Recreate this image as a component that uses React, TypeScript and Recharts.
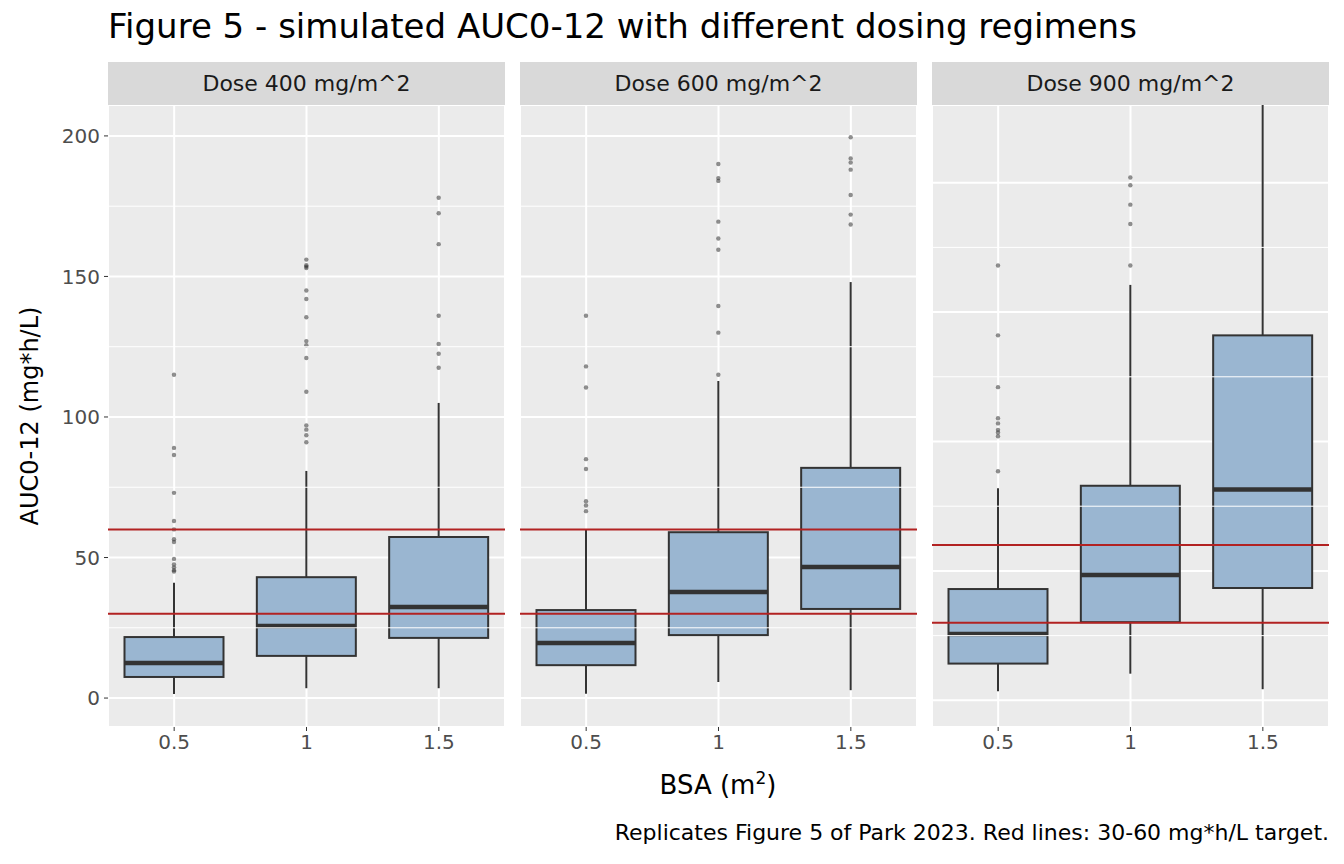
import React from "react";
import { ComposedChart, Bar, XAxis, YAxis, CartesianGrid, ReferenceLine } from "recharts";

const doses = ["Dose 400 mg/m^2", "Dose 600 mg/m^2", "Dose 900 mg/m^2"];
const bsa = ["0.5", "1", "1.5"];

// [low, q1, median, q3, high] per dose, per BSA
const stats400 = [
  [1.4, 7.5, 12.5, 21.7, 41],
  [3.5, 15, 25.6, 43, 80.8],
  [3.5, 21.4, 32.4, 57.3, 105],
];
const stats600 = [
  [1.5, 11.7, 19.6, 31.3, 59.8],
  [5.7, 22.4, 37.7, 59, 112.8],
  [2.8, 31.7, 46.6, 81.9, 148],
];
const stats900 = [
  [3.5, 14.2, 25.6, 43, 81.9],
  [10.3, 30.2, 48.4, 82.9, 160.5],
  [4.3, 43.4, 81.5, 141, 230],
];
const out400 = [
  [115, 89, 86.5, 73, 63, 60, 56.5, 55.5, 49.5, 47.5, 46.5, 45.5, 45],
  [156, 154, 153.5, 153, 145, 142, 135.5, 127, 125.5, 121, 109, 97, 95.5, 93.5, 91],
  [178, 172.5, 161.5, 136, 126, 122.5, 117.5],
];
const out600 = [
  [136, 118, 110.5, 85, 81.5, 70, 68.5, 66.5],
  [190, 185, 184, 169.5, 163.5, 159.5, 139.5, 130, 115],
  [199.5, 192, 190.5, 188, 179, 172, 168.5],
];
const out900 = [
  [168, 141, 121, 109, 107, 104.5, 103.5, 102, 88.5],
  [202, 199, 191.5, 184, 168],
  [],
];
const allStats = [stats400, stats600, stats900];
const allOut = [out400, out600, out900];
const targets = [30, 60];
const majorTicks = [0, 50, 100, 150, 200];
const minorTicks = [25, 75, 125, 175];

const FONT = "'DejaVu Sans', sans-serif";
const PANEL_W = 397;
const PLOT_H = 622;
const PANEL_H = 665;
const YW = 60;

function BoxShape(props: any) {
  const { x, y, width, height, payload } = props;
  const [lo, q1, med, q3, hi] = payload.s;
  const py = (v: number) => y + (height * (hi - v)) / (hi - lo);
  const bw = width * 0.75;
  const bx = x + (width - bw) / 2;
  const cx = x + width / 2;
  const top = Math.max(py(hi), 0);
  return (
    <g>
      <line x1={cx} x2={cx} y1={top} y2={py(q3)} stroke="#333" strokeWidth={2} />
      <line x1={cx} x2={cx} y1={py(q1)} y2={py(lo)} stroke="#333" strokeWidth={2} />
      <rect x={bx} y={py(q3)} width={bw} height={py(q1) - py(q3)} fill="#9AB6D1" stroke="#333" strokeWidth={2} />
      <line x1={bx} x2={bx + bw} y1={py(med)} y2={py(med)} stroke="#333" strokeWidth={4.5} />
      {payload.o.map((v: number, i: number) => (
        <circle key={i} cx={cx} cy={py(v)} r={2.2} fill="#333" fillOpacity={0.55} />
      ))}
    </g>
  );
}

function Panel({ idx }: { idx: number }) {
  const data = bsa.map((b, i) => ({
    bsa: b,
    range: [allStats[idx][i][0], allStats[idx][i][4]],
    s: allStats[idx][i],
    o: allOut[idx][i],
  }));
  const first = idx === 0;
  const w = PANEL_W + (first ? YW : 0);
  const tick = { fontSize: 20, fill: "#4D4D4D", fontFamily: FONT };
  return (
    <ComposedChart width={w} height={PANEL_H} data={data} margin={{ top: 0, right: 0, bottom: 0, left: 0 }} barCategoryGap={0}>
      <CartesianGrid stroke="#fff" strokeWidth={2} fill="#EBEBEB" />
      <XAxis dataKey="bsa" tick={tick} tickLine={{ stroke: "#333" }} axisLine={false} tickSize={4} tickMargin={4} height={43} />
      <YAxis
        type="number"
        domain={[-10.3, 211]}
        ticks={majorTicks}
        hide={!first}
        width={YW}
        tick={tick}
        tickLine={{ stroke: "#333" }}
        axisLine={false}
        tickSize={4}
        tickMargin={4}
      />
      {minorTicks.map((t) => (
        <ReferenceLine key={t} y={t} stroke="#fff" strokeWidth={1} />
      ))}
      {targets.map((t) => (
        <ReferenceLine key={"r" + t} y={t} stroke="#B22222" strokeWidth={2} />
      ))}
      <Bar dataKey="range" shape={BoxShape} isAnimationActive={false} />
    </ComposedChart>
  );
}

export default function App() {
  const lefts = [108, 520, 932];
  return (
    <div style={{ position: "absolute", left: 0, top: 0, width: 1344, height: 864, background: "#fff", fontFamily: FONT }}>
      <div style={{ position: "absolute", left: 108, top: 6, fontSize: 34, color: "#000", whiteSpace: "nowrap" }}>
        Figure 5 - simulated AUC0-12 with different dosing regimens
      </div>
      {doses.map((d, i) => (
        <div key={d}>
          <div style={{ position: "absolute", left: lefts[i], top: 62, width: PANEL_W, height: 43, background: "#D9D9D9", display: "flex", alignItems: "center", justifyContent: "center", fontSize: 22, color: "#1A1A1A" }}>
            {d}
          </div>
          <div style={{ position: "absolute", left: lefts[i] - (i === 0 ? YW : 0), top: 105, height: PLOT_H, overflow: "visible" }}>
            <Panel idx={i} />
          </div>
        </div>
      ))}
      <div style={{ position: "absolute", left: 30, top: 416, transform: "translate(-50%,-50%) rotate(-90deg)", fontSize: 24, whiteSpace: "nowrap" }}>
        AUC0-12 (mg*h/L)
      </div>
      <div style={{ position: "absolute", left: 718, top: 768, transform: "translateX(-50%)", fontSize: 26, whiteSpace: "nowrap" }}>
        BSA (m<sup style={{ fontSize: 17 }}>2</sup>)
      </div>
      <div style={{ position: "absolute", right: 15, top: 820, fontSize: 22, whiteSpace: "nowrap" }}>
        Replicates Figure 5 of Park 2023. Red lines: 30-60 mg*h/L target.
      </div>
    </div>
  );
}
